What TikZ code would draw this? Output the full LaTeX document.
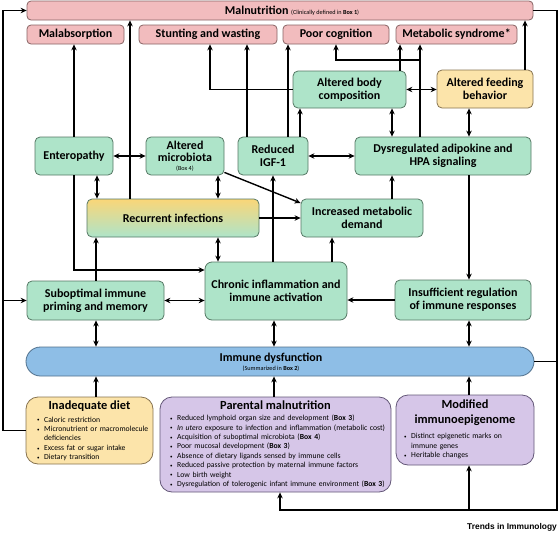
\documentclass[tikz,border=0pt]{standalone}
\usepackage{fontspec}
\setmainfont{Carlito}
\newfontfamily\trendsfont{Liberation Sans}
\usetikzlibrary{arrows.meta}
\definecolor{pinkF}{RGB}{242,188,190}
\definecolor{pinkD}{RGB}{135,100,100}
\definecolor{greenF}{RGB}{174,228,201}
\definecolor{greenD}{RGB}{85,120,100}
\definecolor{yelF}{RGB}{252,228,170}
\definecolor{yelD}{RGB}{135,115,80}
\definecolor{blueF}{RGB}{142,190,230}
\definecolor{blueD}{RGB}{80,112,140}
\definecolor{purF}{RGB}{214,198,232}
\definecolor{purD}{RGB}{100,88,120}
\definecolor{recTop}{RGB}{250,214,120}
\newcommand\myLbl{\fontsize{12}{13.4}\selectfont\bfseries}
\newcommand\myTitle{\fontsize{12.4}{15}\selectfont\bfseries}
\newcommand\mySmall{\fontsize{6.2}{7}\selectfont\mdseries}
\newcommand\myBul{\fontsize{7.7}{9.4}\selectfont\hyphenpenalty=10000\exhyphenpenalty=10000}
\newcommand\bitem{\par\noindent\hangindent=7pt\hangafter=1\makebox[7pt][l]{\raisebox{0.2pt}{\fontsize{5}{5}\selectfont•}}}
\begin{document}
\begin{tikzpicture}[x=1pt,y=-1pt,
  base/.style={line width=0.8pt, inner sep=0pt, align=center, font=\myLbl},
  pbox/.style={base, draw=pinkD, fill=pinkF, rounded corners=4pt},
  gbox/.style={base, draw=greenD, fill=greenF, rounded corners=5pt},
  ybox/.style={base, draw=yelD, fill=yelF, rounded corners=5pt},
  bbox/.style={base, draw=blueD, fill=blueF, rounded corners=14.5pt},
  vbox/.style={base, draw=purD, fill=purF, rounded corners=12pt},
  arr/.style={line width=1.4pt, -{Stealth[length=6pt,width=5.5pt]}},
  darr/.style={line width=1.4pt, {Stealth[length=6pt,width=5.5pt]}-{Stealth[length=6pt,width=5.5pt]}},
  ln/.style={line width=1.4pt},
  lst/.style={anchor=north west, inner sep=0pt, align=left, font=\myBul}]
\useasboundingbox (0,0) rectangle (560,536);
% ---------- nodes ----------
\node[pbox, minimum width=506pt, minimum height=19pt] (maln) at (280,10.5) {};
\node[inner sep=0pt] (malntext) at (292,11) {\myLbl Malnutrition {\mySmall (Clinically defined in \textbf{Box 1})}};
\node[pbox, minimum width=97pt, minimum height=19pt] (malab) at (75.5,34.5) {Malabsorption};
\node[pbox, minimum width=138pt, minimum height=19pt] (stunt) at (208,34.5) {Stunting and wasting};
\node[pbox, minimum width=106pt, minimum height=19pt] (poor) at (336,34.5) {Poor cognition};
\node[pbox, minimum width=121pt, minimum height=19pt] (metab) at (456.5,34.5) {Metabolic syndrome*};
\node[gbox, minimum width=113pt, minimum height=37pt] (abc) at (349.5,89.5) {Altered body\\composition};
\node[ybox, minimum width=96pt, minimum height=38pt] (afb) at (485,89) {Altered feeding\\behavior};
\node[gbox, minimum width=78pt, minimum height=38pt] (ent) at (74,156) {Enteropathy};
\node[gbox, minimum width=78pt, minimum height=38pt] (micro) at (185,156) {Altered\\[-1.5pt]microbiota\\[-4pt]{\mySmall (Box 4)}};
\node[gbox, minimum width=70pt, minimum height=38pt] (igf) at (273,156) {Reduced\\IGF-1};
\node[gbox, minimum width=176pt, minimum height=38pt] (dys) at (443,156) {Dysregulated adipokine and\\HPA signaling};
\node[base, draw=greenD, rounded corners=5pt, top color=recTop, bottom color=greenF, minimum width=172pt, minimum height=38pt] (rec) at (173,218) {Recurrent infections};
\node[gbox, minimum width=122pt, minimum height=38pt] (imd) at (362,218) {Increased metabolic\\demand};
\node[gbox, rounded corners=7pt, minimum width=142pt, minimum height=58pt] (chr) at (276,291) {Chronic inflammation and\\immune activation};
\node[gbox, minimum width=137pt, minimum height=39pt] (sub) at (95.5,300.5) {Suboptimal immune\\priming and memory};
\node[gbox, minimum width=136pt, minimum height=40pt] (ins) at (463,300) {Insufficient regulation\\of immune responses};
\node[bbox, minimum width=508pt, minimum height=29pt] (imm) at (280,361.5) {};
\node[inner sep=0pt, align=center] (immtext) at (271,362) {\myLbl Immune dysfunction\\[-3pt]{\mySmall (Summarized in \textbf{Box 2})}};
\node[ybox, rounded corners=12pt, minimum width=127pt, minimum height=67pt] (diet) at (89.5,430.5) {};
\node[vbox, minimum width=231pt, minimum height=95pt] (par) at (275.5,444.5) {};
\node[vbox, minimum width=138pt, minimum height=70pt] (epi) at (465,430) {};
% titles and lists
\node[inner sep=0pt, font=\myTitle] (diettitle) at (89.5,406.5) {Inadequate diet};
\node[lst, text width=112pt] (dietlist) at (37,412.5) {%
\bitem Caloric restriction
\bitem Micronutrient or macromolecule deficiencies
\bitem Excess fat or sugar intake
\bitem Dietary transition};
\node[inner sep=0pt, font=\myTitle] (partitle) at (275.5,405.5) {Parental malnutrition};
\node[lst, text width=235pt] (parlist) at (170,411) {%
\bitem Reduced lymphoid organ size and development (\textbf{Box 3})
\bitem \textit{In utero} exposure to infection and inflammation (metabolic cost)
\bitem Acquisition of suboptimal microbiota (\textbf{Box 4})
\bitem Poor mucosal development (\textbf{Box 3})
\bitem Absence of dietary ligands sensed by immune cells
\bitem Reduced passive protection by maternal immune factors
\bitem Low birth weight
\bitem Dysregulation of tolerogenic infant immune environment (\textbf{Box 3})};
\node[inner sep=0pt, align=center, font=\myTitle] (epititle) at (465,412.5) {Modified\\immunoepigenome};
\node[lst, text width=112pt] (epilist) at (404,429) {%
\bitem Distinct epigenetic marks on immune genes
\bitem Heritable changes};
\node[anchor=east, inner sep=0pt, font=\trendsfont\fontsize{8.4}{10}\selectfont\bfseries] (trends) at (557,527) {Trends in Immunology};
% ---------- helper coordinates ----------
\coordinate (lb) at (3,0);
\coordinate (rb) at (557,510);
\coordinate (J1) at (420,60);
\coordinate (Y270) at (0,270);
\foreach \xx in {96,97,130,210,218,247,273,274,280,288,300,332,336,392,400,420,469,525}
  {\coordinate (X\xx) at (\xx,0);}
% ---------- connectors ----------
% left bus
\draw[arr] (diet.west) -- (diet.west -| lb) -- (lb |- maln.west) -- (maln.west);
\draw[arr] (sub.west -| lb) -- (sub.west);
% right bus
\draw[arr] (maln.east) -| (rb) -| (par.south -| X280);
\draw[arr] (rb -| X469) -- (epi.south -| X469);
\draw[ln] (imm.east) -- (imm.east -| rb);
% to top row
\draw[arr] (rec.north -| X130) -- (maln.south -| X130);
\draw[arr] (ent.north) -- (ent.north |- malab.south);
\draw[arr] (abc.west) -| (stunt.south -| X210);
\draw[arr] (igf.north -| X247) -- (stunt.south -| X247);
\draw[arr] (igf.north -| X288) -- (poor.south -| X288);
\draw[arr] (igf.north -| X300) -- (abc.south -| X300);
\draw[arr] (dys.north -| X420) -- (metab.south -| X420);
\draw[arr] (J1) -| (poor.south -| X336);
\draw[arr] (abc.north -| X400) -- (metab.south -| X400);
\draw[arr] (afb.north -| X525) -- (maln.south -| X525);
% middle
\draw[darr] (abc.east) -- (abc.east -| afb.west);
\draw[darr] (abc.south -| X392) -- (dys.north -| X392);
\draw[darr] (afb.south -| X469) -- (dys.north -| X469);
\draw[darr] (igf.east) -- (dys.west);
\draw[darr] (ent.east) -- (micro.west);
\draw[darr] (ent.south -| X97) -- (rec.north -| X97);
\draw[darr] (micro.south -| X218) -- (rec.north -| X218);
\draw[arr] ([yshift=3pt]micro.south east) -- ([yshift=15pt]imd.west);
\draw[arr] (rec.east) -- (rec.east -| imd.west);
\draw[arr] (imd.north -| X392) -- (dys.south -| X392);
\draw[arr] (dys.south -| X469) -- (ins.north -| X469);
\draw[arr] (chr.north -| X332) -- (imd.south -| X332);
\draw[arr] (chr.north -| X273) -- (igf.south -| X273);
\draw[darr] (rec.south -| X218) -- (chr.north -| X218);
\draw[arr] (ent.south) |- (chr.west |- Y270);
\draw[arr] (sub.north -| X96) -- (rec.south -| X96);
\draw[darr] (sub.east) -- (sub.east -| chr.west);
\draw[arr] (ins.west) -- (ins.west -| chr.east);
% to immune dysfunction
\draw[darr] (sub.south -| X96) -- (imm.north -| X96);
\draw[darr] (chr.south -| X274) -- (imm.north -| X274);
\draw[darr] (ins.south -| X469) -- (imm.north -| X469);
\draw[arr] (diet.north -| X96) -- (imm.south -| X96);
\draw[arr] (par.north -| X274) -- (imm.south -| X274);
\draw[arr] (epi.north -| X469) -- (imm.south -| X469);
\end{tikzpicture}
\end{document}
